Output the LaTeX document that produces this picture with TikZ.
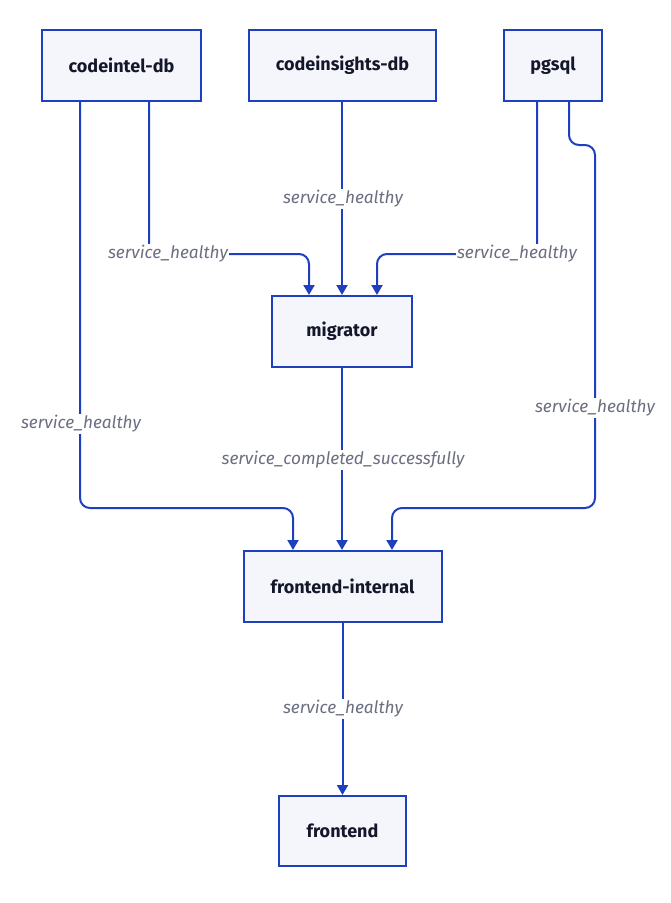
\documentclass[tikz,border=0pt]{standalone}
\usepackage{fontspec}
\setmainfont{Fira Sans}
\usetikzlibrary{arrows.meta}
\definecolor{edgeblue}{HTML}{1E3FBE}
\definecolor{boxfill}{HTML}{F5F6FC}
\definecolor{labgray}{HTML}{6B6E80}
\definecolor{txt}{HTML}{14172A}
\tikzset{
  svc/.style={draw=edgeblue, line width=2pt, fill=boxfill, font=\fontsize{18}{21}\selectfont\bfseries, text=txt, inner sep=0pt},
  link/.style={draw=edgeblue, line width=2pt, rounded corners=10pt, -{Triangle[width=11pt,length=10pt]}},
  lab/.style={fill=white, font=\fontsize{17.2}{20}\selectfont\itshape, text=labgray, inner sep=1.5pt}
}
\begin{document}
\begin{tikzpicture}[x=1pt,y=-1pt]
\useasboundingbox (0,0) rectangle (670,903);
\node[svc, minimum width=159pt, minimum height=71pt] (cidb) at (121.5,65.5) {codeintel-db};
\node[svc, minimum width=187pt, minimum height=71pt] (cins) at (342.5,65.5) {codeinsights-db};
\node[svc, minimum width=98pt, minimum height=71pt] (pg) at (553,65.5) {pgsql};
\node[svc, minimum width=140pt, minimum height=71pt] (mig) at (342,331.5) {migrator};
\node[svc, minimum width=198pt, minimum height=71pt] (fi) at (342.5,586.5) {frontend-internal};
\node[svc, minimum width=127pt, minimum height=70pt] (fe) at (342.5,831) {frontend};

\coordinate (c1) at (149,254);
\coordinate (c2) at (309,254);
\draw[link] (cidb.south -| c1) -- (c1) -- (c2) -- (mig.north -| c2);
\draw[link] (cins.south -| mig.north) -- (mig.north);
\coordinate (p1) at (537,254);
\coordinate (p2) at (377,254);
\draw[link] (pg.south -| p1) -- (p1) -- (p2) -- (mig.north -| p2);
\coordinate (d1) at (80,508);
\coordinate (d2) at (293,508);
\draw[link] (cidb.south -| d1) -- (d1) -- (d2) -- (fi.north -| d2);
\draw[link] (mig.south) -- (fi.north -| mig.south);
\coordinate (q0) at (569,145);
\coordinate (q1) at (595,145);
\coordinate (q2) at (595,508);
\coordinate (q3) at (392,508);
\draw[link] (pg.south -| q0) -- (q0) -- (q1) -- (q2) -- (q3) -- (fi.north -| q3);
\draw[link] (fi.south -| fe.north) -- (fe.north);

\node[lab] (l1) at (168,254) {service\_healthy};
\node[lab] (l2) at (343,199) {service\_healthy};
\node[lab] (l3) at (517,254) {service\_healthy};
\node[lab] (l4) at (81,424) {service\_healthy};
\node[lab] (l5) at (343,460) {service\_completed\_successfully};
\node[lab] (l6) at (595,408) {service\_healthy};
\node[lab] (l7) at (343,709) {service\_healthy};
\end{tikzpicture}
\end{document}
